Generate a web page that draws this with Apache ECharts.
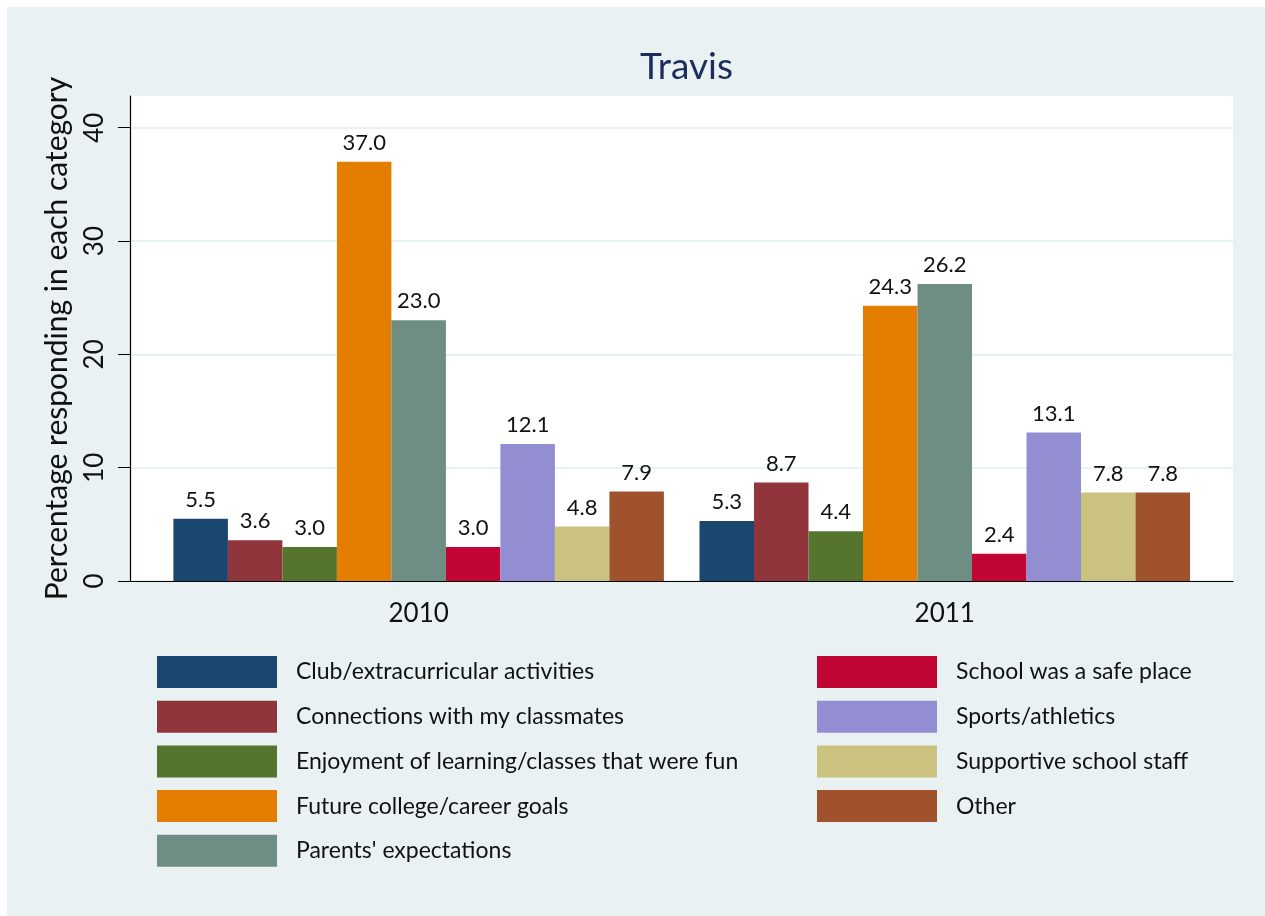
<!DOCTYPE html>
<html>
<head>
<meta charset="utf-8">
<script src="https://cdn.jsdelivr.net/npm/echarts@6/dist/echarts.min.js"></script>
<style>
  html, body { margin: 0; padding: 0; background: #fff; }
  #panel { position: absolute; left: 7px; top: 7px; width: 1258px; height: 909px; background: #eaf1f3; }
  #chart { width: 1258px; height: 909px; }
</style>
</head>
<body>
<div id="panel"><div id="chart"></div></div>
<script>
// data
const years = ['2010', '2011']
const categories = [
  'Club/extracurricular activities',
  'Connections with my classmates',
  'Enjoyment of learning/classes that were fun',
  'Future college/career goals',
  "Parents' expectations",
  'School was a safe place',
  'Sports/athletics',
  'Supportive school staff',
  'Other'
]
// one array per category: [2010, 2011]
const values = [
  [5.5, 5.3],
  [3.6, 8.7],
  [3.0, 4.4],
  [37.0, 24.3],
  [23.0, 26.2],
  [3.0, 2.4],
  [12.1, 13.1],
  [4.8, 7.8],
  [7.9, 7.8]
]
const yTicks = [0, 10, 20, 30, 40]
const colors = ['#1a476f', '#90353b', '#55752f', '#e37e00', '#6e8e84', '#c10534', '#938dd2', '#cac27e', '#a0522d']

const font = 'Lato, "Liberation Sans", sans-serif'
const yMax = 42.8

const chart = echarts.init(document.getElementById('chart'))

const series = categories.map((name, i) => ({
  name: name,
  type: 'bar',
  xAxisIndex: 1,
  yAxisIndex: 1,
  barWidth: 54.5,
  barGap: '0%',
  itemStyle: { color: colors[i] },
  label: {
    show: true,
    position: 'top',
    distance: 8,
    color: '#111',
    fontFamily: font,
    fontSize: 22,
    formatter: p => p.value.toFixed(1)
  },
  data: values[i]
}))

const legendBase = {
  orient: 'vertical',
  top: 649,
  padding: 0,
  itemWidth: 120,
  itemHeight: 32,
  itemGap: 12.7,
  icon: 'rect',
  selectedMode: false,
  textStyle: {
    color: '#111',
    fontFamily: font,
    fontSize: 23,
    padding: [4, 0, 0, 14]
  }
}

const option = {
  animation: false,
  title: {
    text: 'Travis',
    left: 674.5,
    top: 37,
    textAlign: 'center',
    textStyle: {
      color: '#1c2d5c',
      fontFamily: font,
      fontWeight: 'normal',
      fontSize: 37
    }
  },
  legend: [
    Object.assign({}, legendBase, { left: 150, data: categories.slice(0, 5) }),
    Object.assign({}, legendBase, { left: 810, data: categories.slice(5) })
  ],
  grid: [
    { left: 123, top: 89, width: 1103, height: 485, show: true, backgroundColor: '#fff', borderWidth: 0 },
    { left: 148.6, top: 89, width: 1052.2, height: 485 }
  ],
  xAxis: [
    {
      type: 'value',
      gridIndex: 0,
      min: 0,
      max: 1,
      axisLine: { show: true, lineStyle: { color: '#000', width: 1.2 } },
      axisTick: { show: false },
      axisLabel: { show: false },
      splitLine: { show: false }
    },
    {
      type: 'category',
      gridIndex: 1,
      data: years,
      axisLine: { show: false },
      axisTick: { show: false },
      axisLabel: {
        margin: 20,
        color: '#111',
        fontFamily: font,
        fontSize: 26
      }
    }
  ],
  yAxis: [
    {
      type: 'value',
      gridIndex: 0,
      min: 0,
      max: yMax,
      interval: 10,
      name: 'Percentage responding in each category',
      nameLocation: 'middle',
      nameRotate: 90,
      nameGap: 58,
      nameTextStyle: {
        color: '#111',
        fontFamily: font,
        fontSize: 30
      },
      axisLine: { show: true, lineStyle: { color: '#000', width: 1.2 } },
      axisTick: { show: true, length: 12, lineStyle: { color: '#000' }, customValues: yTicks },
      axisLabel: {
        rotate: 90,
        margin: 22,
        color: '#111',
        fontFamily: font,
        fontSize: 26,
        customValues: yTicks
      },
      splitLine: { show: true, lineStyle: { color: '#eaf1f3', width: 2 } }
    },
    {
      type: 'value',
      gridIndex: 1,
      min: 0,
      max: yMax,
      show: false
    }
  ],
  series: series
}

chart.setOption(option)
</script>
</body>
</html>
